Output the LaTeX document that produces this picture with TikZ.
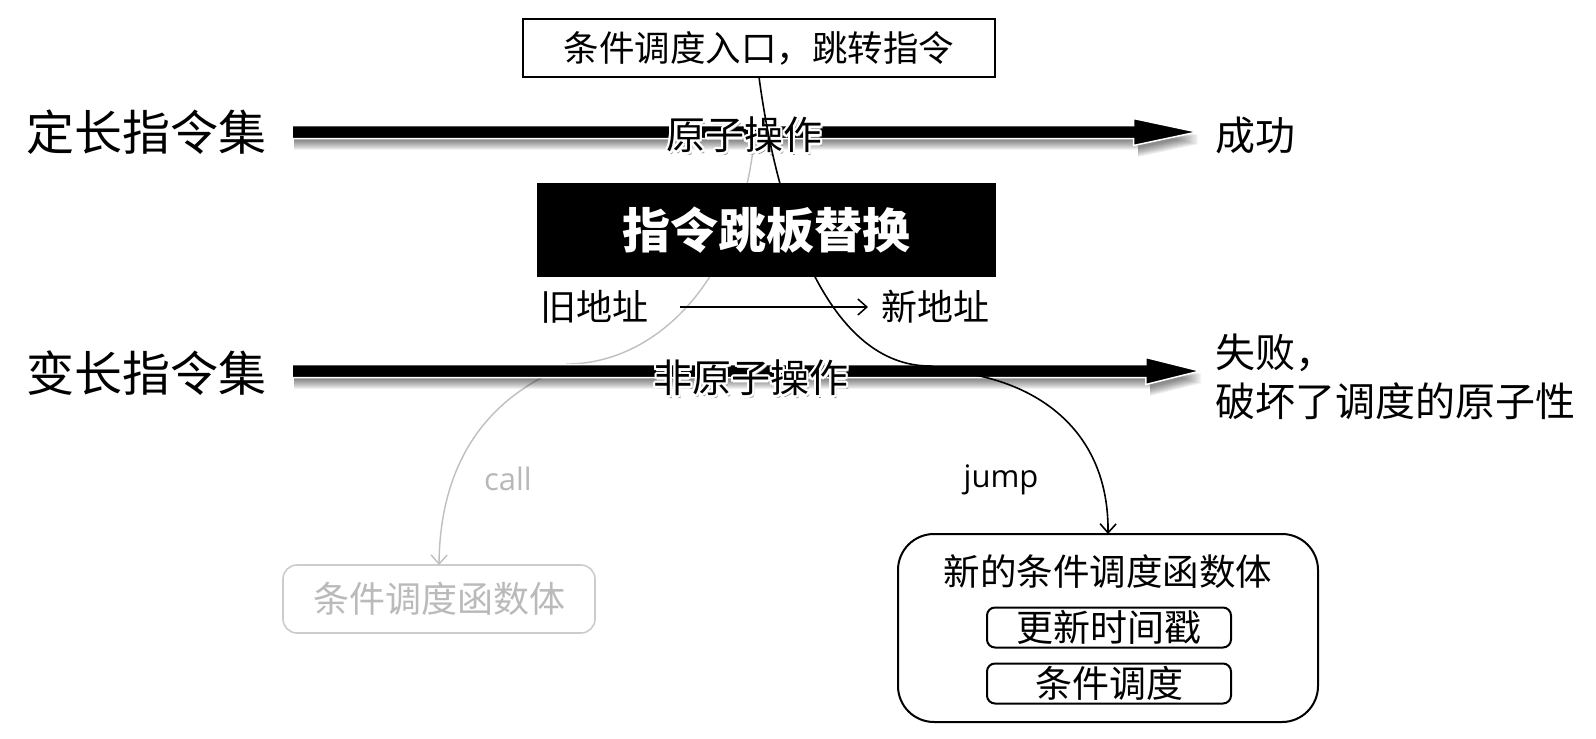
\documentclass[tikz,border=0pt]{standalone}
\usepackage{fontspec}
\setmainfont{Noto Sans CJK SC}
\newfontfamily\latinfont{Open Sans}
\usetikzlibrary{arrows.meta,shapes.arrows,calc}
\newcommand\halolabel[4]{%
  \node[fhalo, text=black!45, name=#1s] at ({#2+2},{#3+3}) {#4};
  \foreach \ang in {0,30,...,330}{\node[fhalo, text=white, name=#1h\ang] at ($(#2,#3)+(\ang:2.4)$) {#4};}
  \node[fhalo, name=#1] at (#2,#3) {#4};
}
\begin{document}
\begin{tikzpicture}[x=1pt,y=-1pt,
  every node/.style={inner sep=0pt,outer sep=0pt},
  fbig/.style={font=\fontsize{48}{52}\selectfont},
  fres/.style={font=\fontsize{40}{49}\selectfont},
  fhalo/.style={font=\fontsize{39}{45}\selectfont},
  faddr/.style={font=\fontsize{36}{40}\selectfont},
  flatin/.style={font=\latinfont\fontsize{31}{36}\selectfont},
  topboxst/.style={draw=black, line width=2pt, fill=white, minimum width=472, minimum height=58, font=\fontsize{35.5}{40}\selectfont},
  blackboxst/.style={fill=black, text=white, minimum width=459, minimum height=94, font=\fontsize{48}{52}\selectfont\bfseries},
  grayboxst/.style={draw=black!20, line width=1.6pt, rounded corners=14, minimum width=312, minimum height=68, text=black!27, font=\fontsize{36}{40}\selectfont},
  bigboxst/.style={draw=black, line width=2pt, rounded corners=36, minimum width=420, minimum height=188},
  innerboxst/.style={draw=black, line width=2pt, rounded corners=8, minimum width=244, minimum height=40, font=\fontsize{37}{40}\selectfont},
  blockarrow/.style={single arrow, fill=black, draw=white, line width=1.5pt, inner xsep=0pt, inner ysep=5.75pt, minimum width=24pt, single arrow head extend=7pt, single arrow head indent=0pt, anchor=west},
  ashadow/.style={single arrow, fill=black, fill opacity=0.055, draw=none, inner xsep=0pt, inner ysep=5.75pt, minimum width=24pt, single arrow head extend=7pt, single arrow head indent=0pt, anchor=west},
  graycurve/.style={draw=black!25, line width=1.4pt, -{Straight Barb[length=9pt,width=16pt]}},
  blackcurve/.style={draw=black, line width=1.6pt, -{Straight Barb[length=9pt,width=16pt]}},
  thinarrow/.style={draw=black, line width=1.5pt, -{Straight Barb[length=9pt,width=16pt]}}
]
\useasboundingbox (0,0) rectangle (1596,739);
\fill[white] (0,0) rectangle (1596,739);

% boxes
\node[grayboxst] (gbox) at (439,599) {条件调度函数体};
\node[bigboxst] (bigbox) at (1108,628) {};
\node[font=\fontsize{36.5}{40}\selectfont] (title) at (1108,572) {新的条件调度函数体};
\node[innerboxst] (ib1) at (1109,627.5) {更新时间戳};
\node[innerboxst] (ib2) at (1109,683.5) {条件调度};
\node[topboxst] (top) at (759,48) {条件调度入口，跳转指令};

% gray call curve (under the arrows)
\coordinate (gs) at (753,150);
\draw[graycurve] (gs) .. controls (735,290) and (650,364) .. (567,364) -- (543,377) .. controls (480,410) and (440,470) .. (gbox.north);

% block arrows with shadows
\foreach \s in {3,...,12}{
  \node[ashadow, single arrow tip angle=24, minimum height=905] (sa\s) at (294,{132+\s}) {};
  \node[ashadow, single arrow tip angle=28, minimum height=908] (sb\s) at (294,{371+\s}) {};
}
\node[blockarrow, single arrow tip angle=24, minimum height=905] (A1) at (292,132) {};
\node[blockarrow, single arrow tip angle=28, minimum height=908] (A2) at (292,371) {};

% side labels
\node[fbig, anchor=west] (L1) at (27,132) {定长指令集};
\node[fbig, anchor=west] (L2) at (27,373) {变长指令集};
\node[fres, anchor=west] (R1) at (1215,135) {成功};
\node[fres, anchor=west, align=left] (R2) at (1215,377) {失败，\\破坏了调度的原子性};

% labels on arrows
\halolabel{atom}{744.5}{135}{原子操作}
\halolabel{natom}{751}{378}{非原子操作}

% addresses
\node[faddr, anchor=west] (old) at (540,307) {旧地址};
\node[faddr, anchor=west] (new) at (881,307) {新地址};
\draw[thinarrow] ([xshift=32]old.east) -- ([xshift=-13]new.west);

% black jump curve
\draw[blackcurve] (top.south) .. controls (778,220) and (830,366) .. (930,366) -- (975,375) .. controls (1050,390) and (1109,440) .. (bigbox.north);

% trampoline box
\node[blackboxst] (bb) at (766.5,230) {指令跳板替换};

% curve labels
\node[flatin, text=black!28, anchor=base] (call) at (508,490) {call};
\node[flatin, anchor=base] (jump) at (1001,487) {jump};
\end{tikzpicture}
\end{document}
